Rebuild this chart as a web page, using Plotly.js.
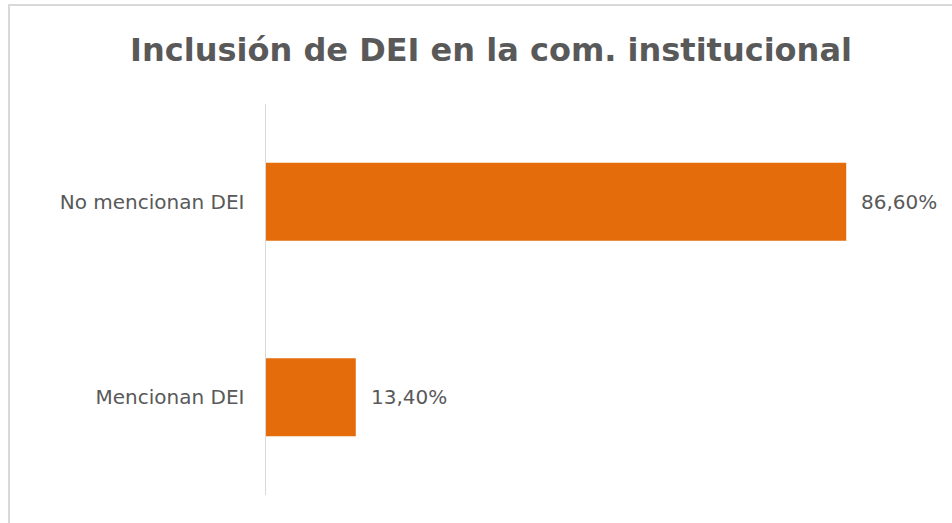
<!DOCTYPE html>
<html>
<head>
<meta charset="utf-8">
<script src="https://cdn.plot.ly/plotly-3.0.1.min.js"></script>
<style>
  html, body { margin: 0; padding: 0; background: #fff; }
  #chart { position: absolute; left: 0; top: 0; width: 952px; height: 523px; }
  #frame { position: absolute; left: 8px; top: 4px; width: 1000px; height: 600px;
           border-left: 2px solid #d9d9d9; border-top: 2px solid #d9d9d9; pointer-events: none; }
</style>
</head>
<body>
<div id="chart"></div>
<div id="frame"></div>
<script>
const categories = ["Mencionan DEI", "No mencionan DEI"];
const values = [13.4, 86.6];
const labels = ["13,40%", "86,60%"];
const chartTitle = "Inclusión de DEI en la com. institucional";

const fontFamily = "DejaVu Sans, sans-serif";
const textColor = "#595959";

const trace = {
  type: "bar",
  orientation: "h",
  y: categories,
  x: values,
  marker: { color: "#E46C0A", line: { width: 0 } },
  width: 0.4,
  hoverinfo: "none"
};

const annotations = categories.map((c, i) => ({
  x: values[i], y: c, xref: "x", yref: "y",
  text: labels[i], showarrow: false,
  xanchor: "left", yanchor: "middle", xshift: 13,
  font: { family: fontFamily, size: 20, color: textColor }
}));

const layout = {
  width: 952, height: 523,
  margin: { l: 266, r: 16, t: 104, b: 28, pad: 0 },
  paper_bgcolor: "#ffffff", plot_bgcolor: "#ffffff",
  showlegend: false,
  title: {
    text: "<b>" + chartTitle + "</b>",
    font: { family: fontFamily, size: 32, color: textColor },
    x: 491 / 952, xanchor: "center", xref: "container",
    y: 1 - 50 / 523, yanchor: "middle", yref: "container"
  },
  xaxis: {
    range: [0, 100], visible: false, showgrid: false, zeroline: false, fixedrange: true
  },
  yaxis: {
    type: "category", categoryorder: "array", categoryarray: categories,
    showline: true, linecolor: "#d9d9d9", linewidth: 1.5,
    showgrid: false, zeroline: false, ticks: "",
    ticklabelstandoff: 16,
    tickfont: { family: fontFamily, size: 20, color: textColor },
    fixedrange: true
  },
  annotations: annotations
};

Plotly.newPlot("chart", [trace], layout, { displayModeBar: false, staticPlot: true });
</script>
</body>
</html>
